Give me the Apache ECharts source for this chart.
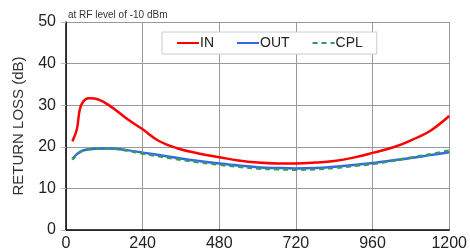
<!DOCTYPE html>
<html>
<head>
<meta charset="utf-8">
<script src="https://cdn.jsdelivr.net/npm/echarts@6/dist/echarts.min.js"></script>
<style>
html,body{margin:0;padding:0;background:#fff}
#chart{width:470px;height:252px}
</style>
</head>
<body>
<div id="chart"></div>
<script>
// frequency (MHz) / return loss (dB)
const inData = [[20,21.3],[34,24.2],[43,28.9],[54,30.9],[70,31.7],[90,31.6],[136,29.9],[193,26.6],[240,24.2],[291,21.4],[350,19.6],[415,18.4],[480,17.5],[540,16.7],[600,16.2],[660,16.0],[720,16.0],[780,16.2],[840,16.6],[900,17.4],[963,18.6],[1030,20.0],[1087,21.8],[1140,23.8],[1200,27.4]]
const outData = [[20,17.1],[35,18.3],[53,19.1],[80,19.5],[136,19.6],[190,19.2],[240,18.6],[300,17.9],[360,17.2],[416,16.6],[480,16.0],[540,15.5],[600,15.1],[660,14.9],[720,14.8],[780,14.9],[840,15.2],[900,15.6],[963,16.1],[1020,16.7],[1080,17.3],[1140,18.0],[1200,18.7]]
const cplData = [[20,16.9],[35,18.2],[53,19.1],[80,19.5],[136,19.6],[190,19.1],[240,18.4],[300,17.6],[360,16.9],[416,16.3],[480,15.7],[540,15.2],[600,14.8],[660,14.6],[720,14.5],[780,14.6],[840,14.9],[900,15.4],[963,15.9],[1020,16.6],[1080,17.4],[1140,18.2],[1200,19.1]]
const seriesNames = ['IN','OUT','CPL']

let chart = echarts.init(document.getElementById('chart'))
let option = {
    animation:false,
    backgroundColor:'#fff',
    grid:{left:66,right:17,top:22,bottom:21,containLabel:false},
    title:{
        text:'at RF level of -10 dBm',
        left:68,top:10,padding:0,
        textStyle:{fontFamily:'Liberation Sans',fontSize:10,fontWeight:'normal',color:'#333'}
    },
    legend:{
        data:seriesNames,
        left:162,top:32,
        width:210,height:22,
        padding:[4,14,4,14],
        itemGap:22,
        itemWidth:22,itemHeight:10,
        itemStyle:{opacity:0},
        borderColor:'#ccc',borderWidth:1,
        backgroundColor:'#fff',
        textStyle:{fontFamily:'Liberation Sans',fontSize:14,color:'#222',padding:[0,0,0,-4]}
    },
    xAxis:{
        type:'value',min:0,max:1200,interval:240,
        axisLine:{onZero:false,lineStyle:{color:'#000',width:1.5}},
        axisTick:{show:false},
        axisLabel:{fontFamily:'Liberation Sans',fontSize:16,color:'#222',margin:6,
            formatter:v=>String(v)},
        splitLine:{lineStyle:{color:'#999',width:1}}
    },
    yAxis:{
        type:'value',min:0,max:50,interval:10,
        name:'RETURN LOSS (dB)',nameLocation:'middle',nameGap:40,
        nameTextStyle:{fontFamily:'Liberation Sans',fontSize:15,color:'#333'},
        axisLine:{show:true,lineStyle:{color:'#000',width:1.5}},
        axisTick:{show:true,length:5,lineStyle:{color:'#bbb'}},
        axisLabel:{fontFamily:'Liberation Sans',fontSize:16,color:'#222',margin:10},
        splitLine:{lineStyle:{color:'#999',width:1}}
    },
    series:[
        {name:'IN',type:'line',data:inData,smooth:0.4,showSymbol:false,symbol:'none',
         color:'#ff0000',lineStyle:{width:2.5,color:'#ff0000'},z:3},
        {name:'OUT',type:'line',data:outData,smooth:0.4,showSymbol:false,symbol:'none',
         color:'#3366ee',lineStyle:{width:2.5,color:'#3366ee'},z:2},
        {name:'CPL',type:'line',data:cplData,smooth:0.4,showSymbol:false,symbol:'none',
         color:'#339966',lineStyle:{width:2.5,color:'#339966',type:[5,4]},z:4}
    ]
}
chart.setOption(option)
</script>
</body>
</html>
